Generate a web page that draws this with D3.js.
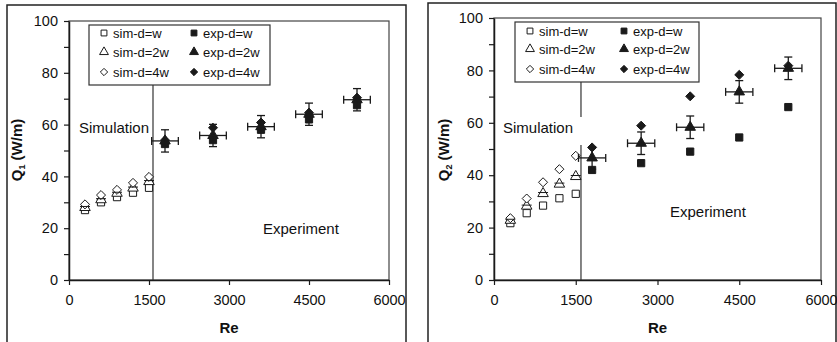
<!DOCTYPE html>
<html>
<head>
<meta charset="utf-8">
<script src="https://cdn.jsdelivr.net/npm/d3@7"></script>
<style>
  body { margin: 0; background: #fff; }
  svg text { font-family: "Liberation Sans", Arial, sans-serif; fill: #111; }
</style>
</head>
<body>
<div id="chart"></div>
<script>
// Re values for simulation and experiment points
var reSim = [300, 600, 900, 1200, 1500];
var reExp = [1800, 2700, 3600, 4500, 5400];

// panel 1 (Q1)
var q1SimW  = [27, 30, 32, 33.7, 35.6];
var q1Sim2W = [28, 31, 33.5, 35.5, 38];
var q1Sim4W = [29.2, 32.8, 34.8, 37.5, 39.8];
var q1ExpW  = [52.5, 54, 58, 62, 67.5];
var q1Exp2W = [53.7, 55.8, 59.2, 64, 69.6];
var q1Exp4W = [54, 58.8, 60.8, 64.6, 70.4];

// panel 2 (Q2)
var q2SimW  = [21.7, 25.5, 28.4, 31.2, 32.9];
var q2Sim2W = [22.8, 28.2, 33, 36.6, 39.5];
var q2Sim4W = [23.6, 31.1, 37.3, 42.3, 47.4];
var q2ExpW  = [42, 44.6, 49, 54.4, 66];
var q2Exp2W = [46.6, 52.2, 58.3, 71.8, 80.8];
var q2Exp4W = [50.6, 58.9, 70.1, 78.3, 81.8];

// error bars on exp-d=2w
var errQ = 4.3;
var errRe = 250;

var xTicks = [0, 1500, 3000, 4500, 6000];
var yTicks = [0, 10, 20, 30, 40, 50, 60, 70, 80, 90, 100];

var legendNames = ['sim-d=w', 'exp-d=w', 'sim-d=2w', 'exp-d=2w', 'sim-d=4w', 'exp-d=4w'];

var svg = d3.select('#chart').append('svg')
    .attr('width', 837)
    .attr('height', 342);

var ink = '#1a1a1a';

function marker(type, size) {
    var t = type == 'square' ? d3.symbolSquare : (type == 'triangle' ? d3.symbolTriangle : d3.symbolDiamond2);
    return d3.symbol().type(t).size(size)();
}

function draw_panel(p) {
    // outer frame
    svg.append('rect')
        .attr('x', p.frame[0]).attr('y', p.frame[1])
        .attr('width', p.frame[2]).attr('height', 360)
        .attr('fill', 'none').attr('stroke', '#222').attr('stroke-width', 1.5);

    var x = d3.scaleLinear().domain([0, 6000]).range([p.left, p.right]);
    var y = d3.scaleLinear().domain([0, 100]).range([p.bottom, p.top]);

    var g = svg.append('g');

    // plot area box
    g.append('rect')
        .attr('x', p.left).attr('y', p.top)
        .attr('width', p.right - p.left).attr('height', p.bottom - p.top)
        .attr('fill', 'none').attr('stroke', '#444').attr('stroke-width', 1.2);

    var xaxis = g.append('g')
        .attr('transform', `translate(0, ${p.bottom})`)
        .call(d3.axisBottom(x).tickValues(xTicks).tickSize(5).tickPadding(10).tickSizeOuter(0)
            .tickFormat(d3.format('d')));
    var yaxis = g.append('g')
        .attr('transform', `translate(${p.left}, 0)`)
        .call(d3.axisLeft(y).tickValues(yTicks).tickSize(5).tickPadding(6).tickSizeOuter(0)
            .tickFormat(function(d) { return d % 20 == 0 ? d : ''; }));
    [xaxis, yaxis].forEach(function(a) {
        a.select('.domain').attr('stroke', ink).attr('stroke-width', 1.5);
        a.selectAll('.tick line').attr('stroke', ink).attr('stroke-width', 1.2);
        a.selectAll('.tick text').style('font-size', '14.5px').attr('fill', ink)
            .style('font-family', '"Liberation Sans", Arial, sans-serif');
    });

    // divider line between simulation and experiment
    var lx = x(p.divRe);
    p.divSegs.forEach(function(s) {
        g.append('line')
            .attr('x1', lx).attr('x2', lx)
            .attr('y1', s[0]).attr('y2', s[1])
            .attr('stroke', '#333').attr('stroke-width', 1.2);
    });

    // axis titles
    g.append('text')
        .attr('x', (p.left + p.right) / 2).attr('y', 333)
        .attr('text-anchor', 'middle')
        .style('font-weight', 700).style('font-size', '15px')
        .text('Re');
    var yt = g.append('text')
        .attr('transform', `translate(${p.ytitleX}, 150) rotate(-90)`)
        .attr('text-anchor', 'middle')
        .style('font-weight', 700).style('font-size', '15px');
    yt.append('tspan').text('Q');
    yt.append('tspan').text(p.sub).style('font-size', '9px').attr('dy', 3);
    yt.append('tspan').text(' (W/m)').attr('dy', -3);

    // annotations
    g.append('text').attr('x', p.simText[0]).attr('y', p.simText[1])
        .style('font-size', '15px').text('Simulation');
    g.append('text').attr('x', p.expText[0]).attr('y', p.expText[1])
        .style('font-size', '15px').text('Experiment');

    var series = [
        { re: reSim, v: p.data[0], type: 'square', fill: '#fff' },
        { re: reSim, v: p.data[1], type: 'triangle', fill: '#fff' },
        { re: reSim, v: p.data[2], type: 'diamond', fill: '#fff' },
        { re: reExp, v: p.data[3], type: 'square', fill: ink },
        { re: reExp, v: p.data[4], type: 'triangle', fill: ink },
        { re: reExp, v: p.data[5], type: 'diamond', fill: ink }
    ];

    series.forEach(function(s) {
        var pts = s.re.map(function(r, i) { return [r, s.v[i]]; });
        g.append('g').selectAll('path').data(pts).enter()
            .append('path')
            .attr('d', marker(s.type, s.type == 'triangle' ? 48 : 52))
            .attr('transform', function(d) { return `translate(${x(d[0])}, ${y(d[1])})`; })
            .attr('fill', s.fill)
            .attr('stroke', ink)
            .attr('stroke-width', 1);
    });

    // small bars through sim-d=2w markers
    g.append('g').selectAll('line').data(reSim).enter()
        .append('line')
        .attr('x1', function(d) { return x(d) - 5; })
        .attr('x2', function(d) { return x(d) + 5; })
        .attr('y1', function(d, i) { return y(p.data[1][i]) - 1; })
        .attr('y2', function(d, i) { return y(p.data[1][i]) - 1; })
        .attr('stroke', ink).attr('stroke-width', 1);

    // error bars
    var eb = g.append('g').attr('stroke', ink).attr('stroke-width', 1.3);
    reExp.forEach(function(r, i) {
        var v = p.data[4][i];
        var cx = x(r), cy = y(v);
        eb.append('line').attr('x1', cx).attr('x2', cx).attr('y1', y(v + errQ)).attr('y2', y(v - errQ));
        eb.append('line').attr('x1', cx - 4).attr('x2', cx + 4).attr('y1', y(v + errQ)).attr('y2', y(v + errQ));
        eb.append('line').attr('x1', cx - 4).attr('x2', cx + 4).attr('y1', y(v - errQ)).attr('y2', y(v - errQ));
        eb.append('line').attr('x1', x(r - errRe)).attr('x2', x(r + errRe)).attr('y1', cy).attr('y2', cy);
        eb.append('line').attr('x1', x(r - errRe)).attr('x2', x(r - errRe)).attr('y1', cy - 4).attr('y2', cy + 4);
        eb.append('line').attr('x1', x(r + errRe)).attr('x2', x(r + errRe)).attr('y1', cy - 4).attr('y2', cy + 4);
    });

    // legend
    var L = p.legend;
    var lg = g.append('g');
    lg.append('rect')
        .attr('x', L.x).attr('y', L.y).attr('width', L.w).attr('height', L.h)
        .attr('fill', '#fff').attr('stroke', '#333').attr('stroke-width', 1.2);
    var types = ['square', 'square', 'triangle', 'triangle', 'diamond', 'diamond'];
    legendNames.forEach(function(name, i) {
        var col = i % 2, row = Math.floor(i / 2);
        var mx = L.x + L.mcol[col];
        var my = L.y + L.rows[row];
        lg.append('path')
            .attr('d', marker(types[i], 34))
            .attr('transform', `translate(${mx}, ${my})`)
            .attr('fill', col == 0 ? '#fff' : ink)
            .attr('stroke', ink).attr('stroke-width', 1);
        lg.append('text')
            .attr('x', mx + 9).attr('y', my + 4.5)
            .style('font-size', '13px')
            .text(name);
    });
}

draw_panel({
    frame: [7, 5, 399],
    left: 69, right: 389, top: 21, bottom: 280,
    sub: '1', ytitleX: 22,
    divRe: 1575, divSegs: [[85, 280]],
    simText: [79, 133], expText: [263, 234],
    data: [q1SimW, q1Sim2W, q1Sim4W, q1ExpW, q1Exp2W, q1Exp4W],
    legend: { x: 89, y: 25, w: 181, h: 60, mcol: [15, 105], rows: [8, 27, 47] }
});

draw_panel({
    frame: [428, 3, 408],
    left: 494, right: 821, top: 18, bottom: 280,
    sub: '2', ytitleX: 449,
    divRe: 1596, divSegs: [[82, 117], [145, 280]],
    simText: [503, 133], expText: [670, 217],
    data: [q2SimW, q2Sim2W, q2Sim4W, q2ExpW, q2Exp2W, q2Exp4W],
    legend: { x: 515, y: 22, w: 184, h: 60, mcol: [15, 109], rows: [9, 27, 47] }
});
</script>
</body>
</html>
